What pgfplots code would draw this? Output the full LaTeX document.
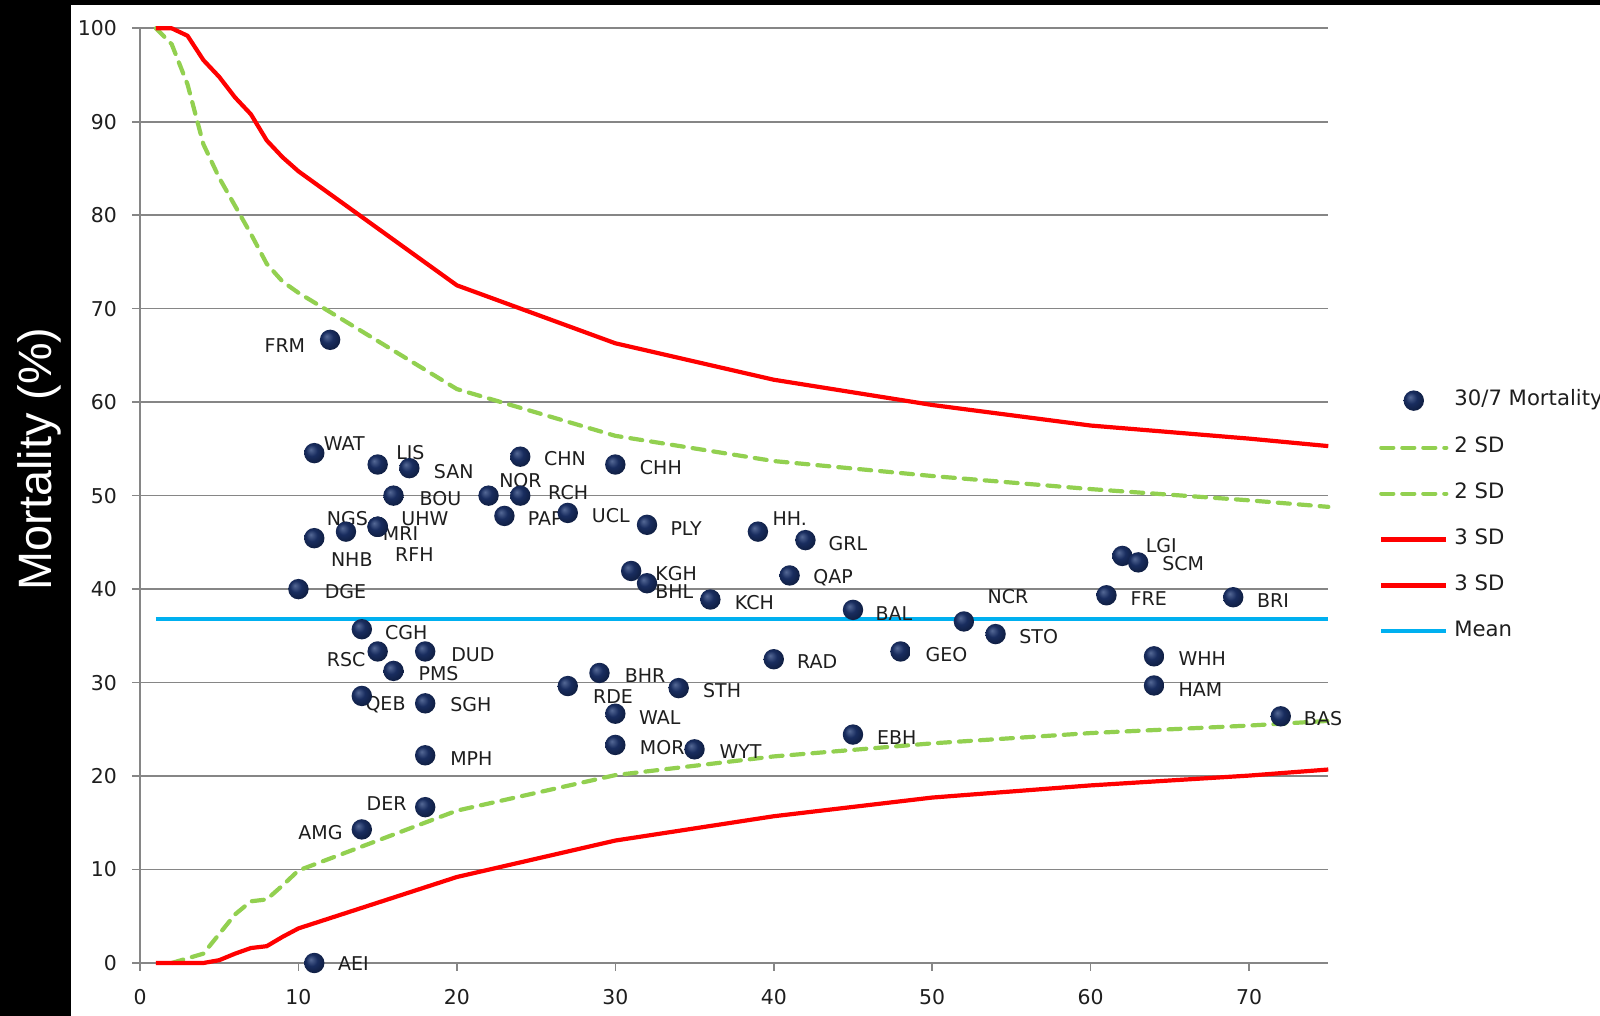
\documentclass[border=0pt]{standalone}
\usepackage{fontspec}
\setmainfont{DejaVu Sans}
\newfontfamily\arialfont{Liberation Sans}
\usepackage{pgfplots}
\pgfplotsset{compat=1.18}
\definecolor{gridgray}{RGB}{134,134,134}
\definecolor{xlred}{RGB}{255,0,0}
\definecolor{xlgreen}{RGB}{146,208,80}
\definecolor{xlblue}{RGB}{0,176,240}
\definecolor{navy}{RGB}{25,45,95}
\definecolor{navyhi}{RGB}{85,105,150}
\definecolor{navydk}{RGB}{12,25,55}
\definecolor{txt}{RGB}{30,30,30}
\pgfdeclareradialshading{navyball}{\pgfpoint{-9bp}{9bp}}{color(0bp)=(navyhi); color(14bp)=(navy); color(34bp)=(navydk); color(50bp)=(navydk)}
\pgfdeclareplotmark{navyball}{\pgfpathcircle{\pgfpointorigin}{\pgfplotmarksize}\pgfshadepath{navyball}{0}\pgfusepath{}}
\pgfplotsset{
  lineleg/.style={legend image code/.code={\draw[##1] (0pt,0pt) -- (32.5pt,0pt);}},
  markleg/.style={legend image code/.code={\draw[mark repeat=2,mark phase=2,##1] plot coordinates {(0pt,0pt) (16.25pt,0pt) (32.5pt,0pt)};}},
}

\pgfplotstableread{
x y
12 66.67
11 54.55
15 53.33
17 52.94
24 54.17
30 53.33
16 50.00
22 50.00
24 50.00
23 47.83
27 48.15
32 46.88
39 46.15
42 45.24
13 46.15
15 46.67
15 46.67
15 46.67
11 45.45
10 40.00
31 41.94
32 40.63
36 38.89
41 41.46
45 37.78
52 36.54
54 35.19
48 33.33
40 32.50
62 43.55
63 42.86
61 39.34
69 39.13
64 32.81
64 29.69
72 26.39
14 35.71
15 33.33
18 33.33
16 31.25
14 28.57
18 27.78
18 22.22
18 16.67
14 14.29
11 0.00
27 29.63
29 31.03
34 29.41
30 26.67
30 23.33
35 22.86
45 24.44
}\pts

\pgfplotstableread{
x up3 up2 lo2 lo3
1 100 100 nan 0
2 100 98.3 0 0
3 99.2 94.0 0.5 0
4 96.6 87.6 1.0 0
5 94.8 84.0 3.1 0.3
6 92.6 81.0 5.2 1.0
7 90.8 78.0 6.6 1.6
8 88.0 74.8 6.8 1.8
9 86.2 72.9 8.3 2.8
10 84.7 71.7 9.9 3.7
20 72.5 61.4 16.3 9.2
30 66.3 56.4 20.1 13.1
40 62.4 53.7 22.1 15.7
50 59.7 52.1 23.5 17.7
60 57.5 50.7 24.6 19.0
70 56.1 49.5 25.4 20.05
75 55.3 48.8 25.9 20.7
}\lims

\begin{document}
\begin{tikzpicture}[
  lbl/.style={anchor=west, inner sep=0pt, font=\fontsize{9.5}{11}\selectfont, text=txt}]
\useasboundingbox (0pt,0pt) rectangle (800pt,508pt);
\clip (0pt,0pt) rectangle (800pt,508pt);
\fill[black] (0pt,0pt) rectangle (800pt,508pt);
\fill[white] (35.5pt,0pt) rectangle (800pt,505.5pt);
\node[rotate=90, anchor=base, text=white, inner sep=0pt, font=\arialfont\fontsize{23.4}{28}\selectfont] at (25.5pt,278.5pt) {Mortality (\%)};
\begin{axis}[
  at={(70pt,26.5pt)}, anchor=south west,
  scale only axis, width=594.15pt, height=467.35pt,
  xmin=0, xmax=75, ymin=0, ymax=100,
  axis lines*=left,
  axis line style={gridgray, line width=0.8pt},
  xtick={0,10,...,70}, ytick={0,10,...,100},
  tick align=outside, major tick length=4pt,
  tick style={gridgray, line width=0.8pt},
  ymajorgrids, grid style={gridgray, line width=0.8pt},
  ticklabel style={font=\fontsize{10.2}{12}\selectfont, text=txt},
  /pgf/number format/assume math mode=true,
  xticklabel style={yshift=-5.5pt},
  yticklabel style={xshift=-4pt},
  clip=false,
  legend cell align=left,
  legend style={draw=none, fill=none, at={(1.0425,0.613)}, anchor=north west,
    inner sep=0pt, font=\fontsize{10.6}{12}\selectfont, text=txt,
    row sep=13.95pt, column sep=3pt,
    nodes={inner sep=0pt, text height=7pt, text depth=2pt, anchor=west}},
  lineleg,
]
\addplot[only marks, mark=navyball, mark size=5.1pt, markleg]
  table[x=x,y=y] {\pts};
\addlegendentry{30/7 Mortality}
\addplot[xlgreen, line width=2.1pt, line cap=round, dash pattern=on 6pt off 4.5pt, unbounded coords=jump] table[x=x,y=up2] {\lims};
\addlegendentry{2 SD}
\addplot[xlgreen, line width=2.1pt, line cap=round, dash pattern=on 6pt off 4.5pt, unbounded coords=jump] table[x=x,y=lo2] {\lims};
\addlegendentry{2 SD}
\addplot[xlred, line width=2.1pt, line join=round] table[x=x,y=up3] {\lims};
\addlegendentry{3 SD}
\addplot[xlred, line width=2.1pt, line join=round] table[x=x,y=lo3] {\lims};
\addlegendentry{3 SD}
\addplot[xlblue, line width=2pt] coordinates {(1,36.8) (75,36.8)};
\addlegendentry{Mean}

\node[lbl] at (axis cs:7.84,66.1) {FRM};
\node[lbl] at (axis cs:11.58,55.6) {WAT};
\node[lbl] at (axis cs:16.15,54.65) {LIS};
\node[lbl] at (axis cs:18.53,52.6) {SAN};
\node[lbl] at (axis cs:25.48,54.0) {CHN};
\node[lbl] at (axis cs:31.53,53.0) {CHH};
\node[lbl] at (axis cs:22.65,51.6) {NOR};
\node[lbl] at (axis cs:25.74,50.3) {RCH};
\node[lbl] at (axis cs:17.63,49.7) {BOU};
\node[lbl] at (axis cs:24.45,47.55) {PAP};
\node[lbl] at (axis cs:28.5,47.9) {UCL};
\node[lbl] at (axis cs:33.46,46.5) {PLY};
\node[lbl] at (axis cs:39.9,47.55) {HH.};
\node[lbl] at (axis cs:43.44,44.9) {GRL};
\node[lbl] at (axis cs:11.77,47.55) {NGS};
\node[lbl] at (axis cs:16.47,47.55) {UHW};
\node[lbl] at (axis cs:15.31,45.9) {MRI};
\node[lbl] at (axis cs:12.03,43.2) {NHB};
\node[lbl] at (axis cs:16.08,43.7) {RFH};
\node[lbl] at (axis cs:11.64,39.7) {DGE};
\node[lbl] at (axis cs:32.5,41.7) {KGH};
\node[lbl] at (axis cs:32.5,39.7) {BHL};
\node[lbl] at (axis cs:37.52,38.6) {KCH};
\node[lbl] at (axis cs:42.48,41.2) {QAP};
\node[lbl] at (axis cs:46.4,37.4) {BAL};
\node[lbl] at (axis cs:53.48,39.2) {NCR};
\node[lbl] at (axis cs:55.48,34.9) {STO};
\node[lbl] at (axis cs:49.56,33.0) {GEO};
\node[lbl] at (axis cs:41.45,32.2) {RAD};
\node[lbl] at (axis cs:63.46,44.7) {LGI};
\node[lbl] at (axis cs:64.5,42.75) {SCM};
\node[lbl] at (axis cs:62.5,39.0) {FRE};
\node[lbl] at (axis cs:70.48,38.8) {BRI};
\node[lbl] at (axis cs:65.53,32.6) {WHH};
\node[lbl] at (axis cs:65.53,29.3) {HAM};
\node[lbl] at (axis cs:73.44,26.2) {BAS};
\node[lbl] at (axis cs:15.44,35.3) {CGH};
\node[lbl] at (axis cs:11.77,32.5) {RSC};
\node[lbl] at (axis cs:19.62,33.0) {DUD};
\node[lbl] at (axis cs:17.56,31.0) {PMS};
\node[lbl] at (axis cs:14.21,27.6) {QEB};
\node[lbl] at (axis cs:19.56,27.6) {SGH};
\node[lbl] at (axis cs:19.56,21.9) {MPH};
\node[lbl] at (axis cs:14.28,17.1) {DER};
\node[lbl] at (axis cs:9.97,13.9) {AMG};
\node[lbl] at (axis cs:12.48,-0.1) {AEI};
\node[lbl] at (axis cs:28.57,28.5) {RDE};
\node[lbl] at (axis cs:30.57,30.75) {BHR};
\node[lbl] at (axis cs:35.52,29.1) {STH};
\node[lbl] at (axis cs:31.47,26.3) {WAL};
\node[lbl] at (axis cs:31.53,23.0) {MOR};
\node[lbl] at (axis cs:36.55,22.6) {WYT};
\node[lbl] at (axis cs:46.5,24.1) {EBH};
\end{axis}
\end{tikzpicture}
\end{document}
